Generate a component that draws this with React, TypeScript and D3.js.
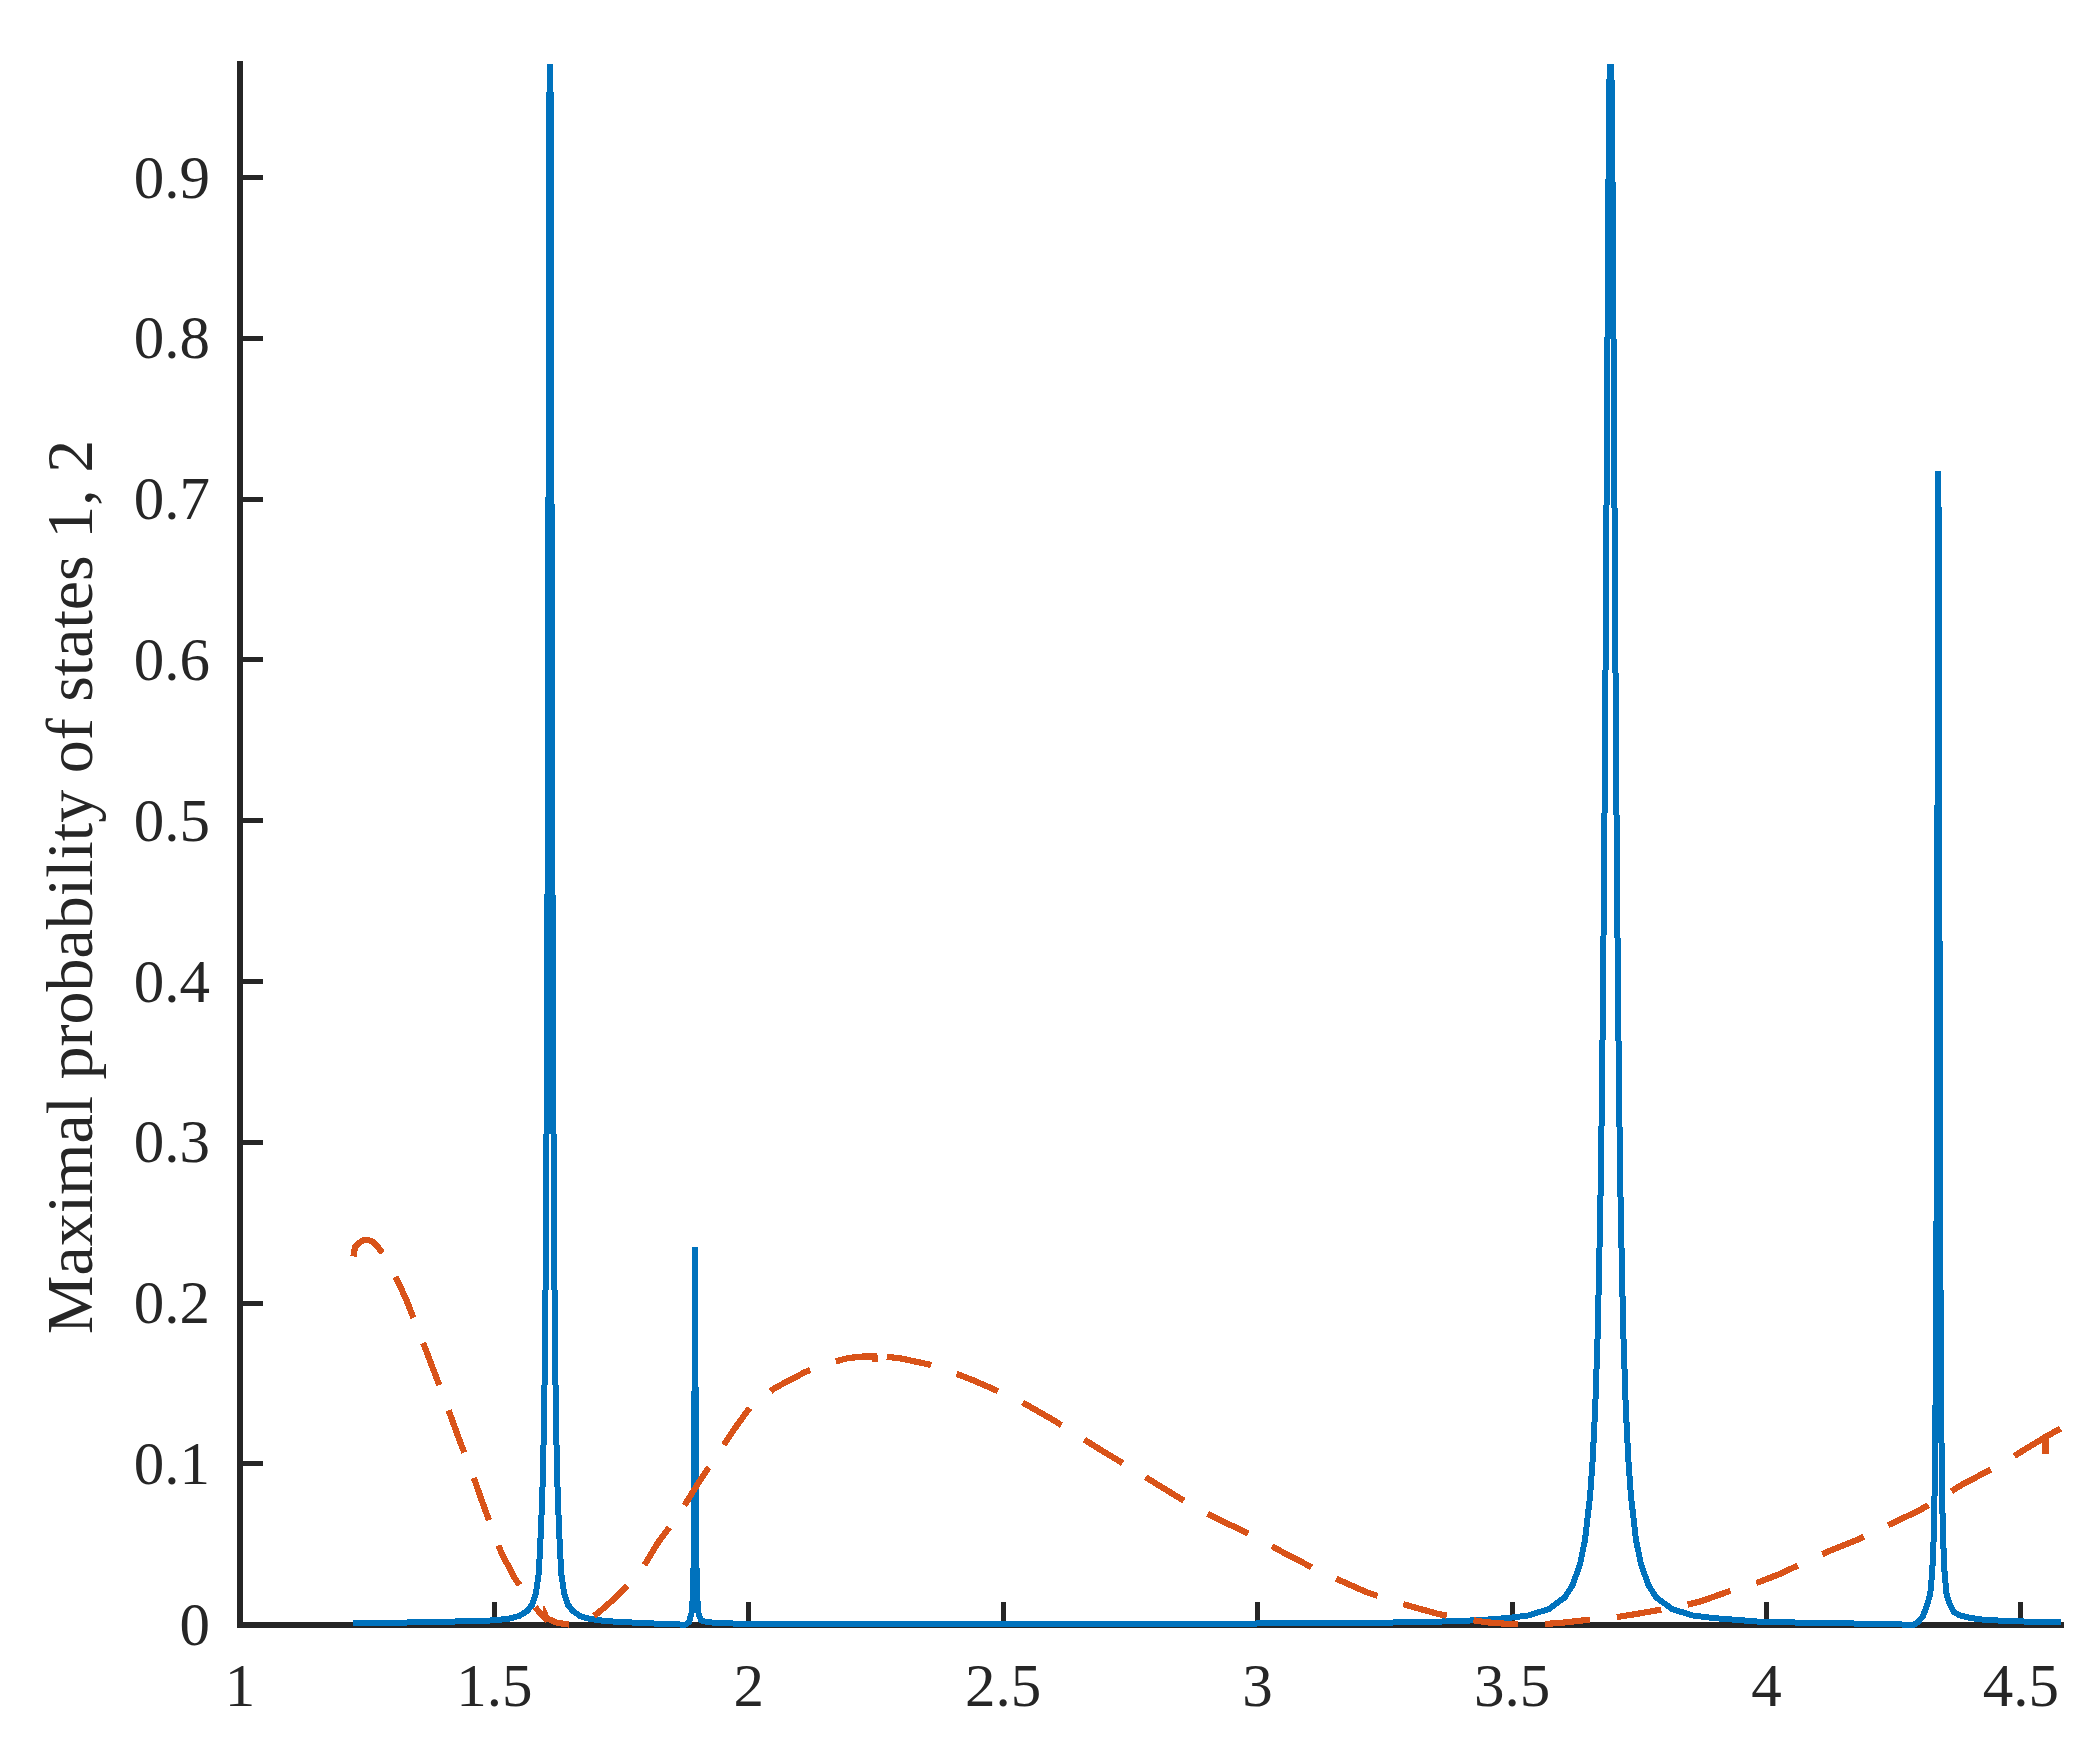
import { useMemo } from 'react';
import { scaleLinear, line as d3line } from 'd3';

const W = 2099;
const H = 1764;

// axes frame (pixels)
const PLOT = { left: 240, right: 2061, top: 64, bottom: 1624.7 };

const X_DOMAIN: [number, number] = [1, 4.579];
const Y_DOMAIN: [number, number] = [0, 0.9706];

const X_TICKS = [1, 1.5, 2, 2.5, 3, 3.5, 4, 4.5];
const X_TICK_LABELS = ['1', '1.5', '2', '2.5', '3', '3.5', '4', '4.5'];
const Y_TICKS = [0, 0.1, 0.2, 0.3, 0.4, 0.5, 0.6, 0.7, 0.8, 0.9];
const Y_TICK_LABELS = ['0', '0.1', '0.2', '0.3', '0.4', '0.5', '0.6', '0.7', '0.8', '0.9'];

const Y_LABEL = 'Maximal probability of states 1, 2';

// solid blue: sharp resonances at ~1.61, ~1.89, ~3.69, ~4.34
const STATE_1: [number, number][] = [
  [1.222, 0.0009], [1.26, 0.001], [1.3, 0.0012], [1.35, 0.0015], [1.4, 0.0018],
  [1.45, 0.0022], [1.5, 0.0027], [1.5293, 0.0038], [1.5493, 0.0055], [1.5643, 0.0085],
  [1.5743, 0.0125], [1.5813, 0.019], [1.5873, 0.032], [1.5913, 0.058], [1.5943, 0.082],
  [1.5973, 0.122], [1.5993, 0.167], [1.6013, 0.238], [1.6033, 0.357], [1.6043, 0.444],
  [1.6053, 0.556], [1.6063, 0.69], [1.6073, 0.833], [1.6083, 0.952], [1.6093, 1.0],
  [1.6103, 0.952], [1.6113, 0.833], [1.6123, 0.69], [1.6133, 0.556], [1.6143, 0.444],
  [1.6153, 0.357], [1.6173, 0.238], [1.6193, 0.167], [1.6213, 0.122], [1.6243, 0.082],
  [1.6273, 0.058], [1.6313, 0.032], [1.6373, 0.019], [1.6443, 0.0125], [1.6543, 0.0085],
  [1.6693, 0.0052], [1.6893, 0.0035], [1.72, 0.0022], [1.78, 0.0012], [1.84, 0.0004],
  [1.875, 0.0], [1.8823, 0.0015], [1.8873, 0.0069], [1.8898, 0.0162], [1.8913, 0.0336],
  [1.8923, 0.064], [1.8931, 0.12], [1.8937, 0.19], [1.8943, 0.235], [1.8949, 0.19],
  [1.8955, 0.12], [1.8963, 0.064], [1.8973, 0.0336], [1.8988, 0.0162], [1.9013, 0.0069],
  [1.9063, 0.0026], [1.92, 0.0015], [1.95, 0.0009], [2.0, 0.0005], [2.2, 0.0003],
  [2.5, 0.0002], [2.8, 0.0002], [2.99, 0.0002], [3.0, 0.0009], [3.1, 0.001],
  [3.2, 0.0011], [3.3, 0.0015], [3.39, 0.0022], [3.4436, 0.003], [3.4936, 0.0042],
  [3.5336, 0.0058], [3.5736, 0.0099], [3.6036, 0.017], [3.6186, 0.0243], [3.6336, 0.0374],
  [3.6436, 0.053], [3.6536, 0.0805], [3.6586, 0.103], [3.6636, 0.135], [3.6686, 0.183],
  [3.6736, 0.259], [3.6761, 0.3137], [3.6786, 0.3836], [3.6811, 0.4726], [3.6836, 0.583],
  [3.6861, 0.713], [3.6886, 0.848], [3.6906, 0.94], [3.6936, 1.0], [3.6966, 0.94],
  [3.6986, 0.848], [3.7011, 0.713], [3.7036, 0.583], [3.7061, 0.4726], [3.7086, 0.3836],
  [3.7111, 0.3137], [3.7136, 0.259], [3.7186, 0.183], [3.7236, 0.135], [3.7286, 0.103],
  [3.7336, 0.0805], [3.7436, 0.053], [3.7536, 0.0374], [3.7686, 0.0243], [3.7836, 0.017],
  [3.8136, 0.0099], [3.8536, 0.0058], [3.8936, 0.0042], [3.95, 0.0028], [3.98, 0.002],
  [4.05, 0.0014], [4.12, 0.001], [4.2, 0.0006], [4.25, 0.0002], [4.29, 0.0],
  [4.298, 0.0015], [4.308, 0.0055], [4.316, 0.0125], [4.322, 0.0191], [4.326, 0.0333],
  [4.3285, 0.0517], [4.33, 0.0708], [4.332, 0.117], [4.334, 0.218], [4.335, 0.314],
  [4.336, 0.457], [4.337, 0.628], [4.338, 0.7177], [4.339, 0.628], [4.34, 0.457],
  [4.341, 0.314], [4.342, 0.218], [4.344, 0.117], [4.346, 0.0708], [4.3475, 0.0517],
  [4.35, 0.0333], [4.354, 0.0191], [4.36, 0.013], [4.368, 0.008], [4.38, 0.0058],
  [4.4, 0.0042], [4.43, 0.003], [4.48, 0.0022], [4.53, 0.0018], [4.579, 0.0015],
];

// dashed orange: slow oscillation with small glitches
const STATE_2: [number, number][] = [
  [1.223, 0.229], [1.226, 0.235], [1.234, 0.2375], [1.242, 0.239], [1.252, 0.2392],
  [1.262, 0.238], [1.272, 0.2345], [1.28, 0.231], [1.295, 0.223], [1.311, 0.213],
  [1.327, 0.202], [1.342, 0.19], [1.37, 0.167], [1.4, 0.142], [1.43, 0.116],
  [1.46, 0.091], [1.472, 0.08], [1.495, 0.06], [1.514, 0.0445], [1.54, 0.029],
  [1.564, 0.018], [1.585, 0.009], [1.598, 0.0045], [1.5993, 0.0065], [1.603, 0.004],
  [1.62, 0.0015], [1.64, 0.0003], [1.655, 0.0], [1.67, 0.0006], [1.688, 0.0035],
  [1.71, 0.009], [1.7305, 0.0147], [1.76, 0.024], [1.7927, 0.036], [1.8215, 0.051],
  [1.85, 0.063], [1.8746, 0.0747], [1.904, 0.0897], [1.943, 0.108], [1.97, 0.121],
  [2.002, 0.135], [2.05, 0.147], [2.11, 0.157], [2.15, 0.162], [2.195, 0.1658],
  [2.225, 0.1668], [2.247, 0.1668], [2.248, 0.1602], [2.249, 0.1669], [2.27, 0.1667],
  [2.3, 0.1655], [2.352, 0.162], [2.4, 0.157], [2.441, 0.152], [2.528, 0.14],
  [2.6, 0.127], [2.68, 0.111], [2.765, 0.0946], [2.869, 0.0744], [2.93, 0.0645],
  [2.99, 0.0555], [3.05, 0.045], [3.12, 0.0335], [3.212, 0.0205], [3.264, 0.0148],
  [3.3, 0.0115], [3.357, 0.0065], [3.41, 0.0035], [3.45, 0.0015], [3.5, 0.0003],
  [3.53, 0.0], [3.56, 0.0003], [3.6, 0.0013], [3.649, 0.003], [3.702, 0.0045],
  [3.75, 0.007], [3.794, 0.0094], [3.846, 0.0126], [3.869, 0.0143], [3.934, 0.0216],
  [3.987, 0.0267], [4.03, 0.032], [4.072, 0.0384], [4.125, 0.046], [4.18, 0.053],
  [4.24, 0.062], [4.3, 0.071], [4.338, 0.078], [4.384, 0.087], [4.42, 0.093],
  [4.465, 0.1005], [4.508, 0.109], [4.547, 0.1165], [4.548, 0.1], [4.549, 0.1168],
  [4.578, 0.122],
];

const INK = '#262626';
const BLUE = '#0072BD';
const ORANGE = '#D95319';
const FONT = '"Liberation Serif", "Times New Roman", Times, serif';

export default function App() {
  const x = useMemo(() => scaleLinear().domain(X_DOMAIN).range([PLOT.left, PLOT.right]), []);
  const y = useMemo(() => scaleLinear().domain(Y_DOMAIN).range([PLOT.bottom, PLOT.top]), []);

  const gen = d3line<[number, number]>()
    .x((d) => x(d[0]))
    .y((d) => y(d[1]));

  const tickLen = 23;

  return (
    <div style={{ position: 'absolute', left: 0, top: 0 }}>
      <style>{'body{margin:0;overflow:hidden}'}</style>
      <svg width={W} height={H} viewBox={`0 0 ${W} ${H}`} style={{ display: 'block', background: '#fff' }}>
        <defs>
          <clipPath id="plot-clip">
            <rect x={PLOT.left - 4} y={PLOT.top} width={PLOT.right - PLOT.left + 8} height={PLOT.bottom - PLOT.top + 8} />
          </clipPath>
        </defs>

        {/* axes sit under the data (MATLAB default layer) */}
        <g stroke={INK} fill="none" shapeRendering="crispEdges">
          <path d={`M${PLOT.left},${PLOT.top}V${PLOT.bottom}H${PLOT.right}`} strokeWidth={6} strokeLinecap="square" />
          {X_TICKS.map((t) => (
            <line key={t} x1={x(t)} x2={x(t)} y1={PLOT.bottom} y2={PLOT.bottom - tickLen} strokeWidth={5} />
          ))}
          {Y_TICKS.map((t) => (
            <line key={t} x1={PLOT.left} x2={PLOT.left + tickLen} y1={y(t)} y2={y(t)} strokeWidth={5} />
          ))}
        </g>

        <g clipPath="url(#plot-clip)" fill="none" shapeRendering="crispEdges">
          <path d={gen(STATE_1) ?? ''} stroke={BLUE} strokeWidth={6} />
          <path d={gen(STATE_2) ?? ''} stroke={ORANGE} strokeWidth={6.2} strokeDasharray="45 27" />
        </g>

        <g fontFamily={FONT} fontSize={61} fill={INK}>
          {X_TICKS.map((t, i) => (
            <text key={t} x={x(t)} y={1706} textAnchor="middle">
              {X_TICK_LABELS[i]}
            </text>
          ))}
          {Y_TICKS.map((t, i) => (
            <text key={t} x={210} y={y(t)} dy="0.33em" textAnchor="end">
              {Y_TICK_LABELS[i]}
            </text>
          ))}
        </g>

        <text
          transform="translate(92,887) rotate(-90)"
          textAnchor="middle"
          fontFamily={FONT}
          fontSize={66}
          fill={INK}
        >
          {Y_LABEL}
        </text>
      </svg>
    </div>
  );
}
